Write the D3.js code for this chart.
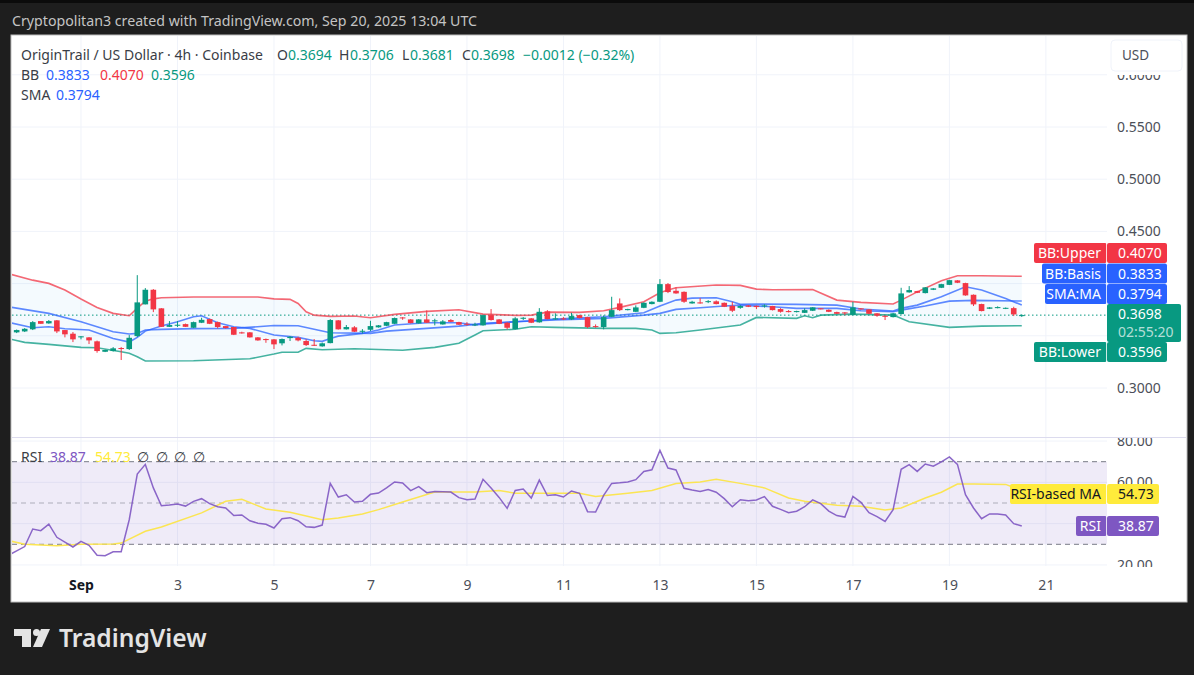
<!DOCTYPE html>
<html>
<head>
<meta charset="utf-8">
<script src="https://cdn.jsdelivr.net/npm/d3@7"></script>
<style>
  html, body { margin: 0; padding: 0; background: #1e1e1e; overflow: hidden; }
  svg { display: block; }
  text { font-family: "Noto Sans", sans-serif; }
</style>
</head>
<body>
<svg id="chart" width="1194" height="675"></svg>
<script>
// 4h candles, first one is bar -8, bar 0 is Sep 1 00:00
const firstBar = -8;
const barOpen = [.3533,.3542,.3562,.3641,.3619,.3648,.3555,.3520,.3485,.3485,
  .3447,.3347,.3354,.3383,.3373,.3497,.3801,.3941,.3763,.3586,
  .3600,.3612,.3577,.3625,.3660,.3631,.3593,.3584,.3533,.3533,
  .3485,.3469,.3466,.3428,.3478,.3481,.3450,.3414,.3399,.3430,
  .3648,.3562,.3581,.3539,.3558,.3581,.3596,.3615,.3676,.3657,
  .3619,.3657,.3641,.3609,.3651,.3631,.3615,.3603,.3600,.3698,
  .3657,.3625,.3564,.3663,.3667,.3629,.3734,.3657,.3667,.3657,
  .3698,.3679,.3593,.3584,.3682,.3810,.3746,.3730,.3768,.3804,
  .3826,.3995,.3931,.3921,.3810,.3820,.3823,.3830,.3816,.3787,
  .3768,.3791,.3787,.3782,.3785,.3756,.3737,.3727,.3720,.3740,
  .3763,.3749,.3727,.3724,.3701,.3763,.3753,.3715,.3692,.3679,
  .3708,.3916,.3928,.3909,.3941,.3960,.3988,.4031,.4005,.3893,
  .3804,.3759,.3765,.3759,.3765,.3694];
const barClose = [.3555,.3567,.3631,.3615,.3641,.3542,.3514,.3466,.3495,.3456,
  .3354,.3364,.3380,.3376,.3481,.3820,.3941,.3753,.3586,.3603,
  .3606,.3586,.3631,.3653,.3615,.3584,.3574,.3510,.3523,.3485,
  .3456,.3459,.3418,.3469,.3491,.3456,.3411,.3408,.3428,.3651,
  .3562,.3584,.3539,.3548,.3593,.3600,.3631,.3670,.3667,.3622,
  .3657,.3625,.3648,.3638,.3634,.3606,.3609,.3609,.3698,.3651,
  .3615,.3577,.3667,.3673,.3625,.3730,.3660,.3667,.3657,.3689,
  .3670,.3584,.3584,.3679,.3746,.3746,.3756,.3772,.3816,.3826,
  .3995,.3919,.3906,.3826,.3826,.3810,.3832,.3804,.3778,.3740,
  .3785,.3778,.3775,.3791,.3746,.3730,.3727,.3737,.3746,.3772,
  .3756,.3730,.3711,.3715,.3772,.3753,.3711,.3692,.3682,.3715,
  .3906,.3938,.3912,.3964,.3954,.3995,.4033,.4008,.3887,.3801,
  .3737,.3772,.3775,.3768,.3705,.3698];
const barHigh = [.3560,.3574,.3641,.3641,.3651,.3651,.3555,.3536,.3497,.3488,
  .3454,.3368,.3392,.3392,.3507,.4081,.3957,.3947,.3765,.3641,
  .3641,.3617,.3636,.3673,.3665,.3636,.3593,.3584,.3539,.3536,
  .3488,.3474,.3469,.3474,.3497,.3491,.3466,.3469,.3435,.3660,
  .3651,.3603,.3593,.3564,.3644,.3603,.3634,.3675,.3679,.3660,
  .3660,.3743,.3663,.3651,.3660,.3634,.3631,.3625,.3703,.3756,
  .3660,.3631,.3679,.3679,.3670,.3765,.3746,.3715,.3679,.3720,
  .3701,.3682,.3609,.3696,.3874,.3858,.3759,.3791,.3820,.3830,
  .4043,.4005,.3964,.3925,.3835,.3861,.3842,.3839,.3819,.3826,
  .3794,.3794,.3790,.3801,.3787,.3765,.3746,.3740,.3763,.3775,
  .3765,.3753,.3731,.3727,.3826,.3765,.3756,.3718,.3695,.3718,
  .3960,.3976,.3931,.3966,.3957,.3998,.4036,.4033,.4008,.3896,
  .3807,.3775,.3782,.3771,.3778,.3706];
const barLow = [.3526,.3536,.3555,.3615,.3615,.3526,.3485,.3440,.3466,.3421,
  .3338,.3344,.3349,.3268,.3364,.3488,.3801,.3727,.3584,.3584,
  .3584,.3584,.3574,.3622,.3612,.3571,.3569,.3507,.3521,.3483,
  .3453,.3433,.3373,.3408,.3450,.3447,.3402,.3402,.3396,.3428,
  .3560,.3560,.3536,.3523,.3545,.3579,.3593,.3612,.3653,.3619,
  .3617,.3622,.3600,.3607,.3631,.3603,.3596,.3593,.3597,.3646,
  .3612,.3562,.3562,.3651,.3622,.3626,.3657,.3654,.3651,.3651,
  .3667,.3574,.3577,.3562,.3679,.3737,.3743,.3727,.3765,.3801,
  .3823,.3909,.3903,.3816,.3808,.3808,.3813,.3801,.3775,.3727,
  .3759,.3775,.3756,.3770,.3743,.3722,.3724,.3724,.3718,.3737,
  .3753,.3727,.3708,.3698,.3698,.3750,.3708,.3682,.3651,.3676,
  .3705,.3913,.3909,.3906,.3938,.3957,.3986,.4005,.3884,.3785,
  .3734,.3756,.3763,.3756,.3689,.3681];

// Bollinger bands and SMA, read at the points where they bend
const upperBars = [-9,-6,-4,-2,0,2,4,6,7,8,9,10,14,22,24,26,27,28,29,31,34,36,39,43,47,50,54,56,58,62,65,67,70,72,73,74,79,82,84,86,91,94,97,101,102,104,107,109,112,117];
const upperVals = [.4094,.4033,.4002,.3938,.3852,.3772,.3715,.3692,.3765,.3832,.3854,.3864,.3871,.3871,.3854,.3849,.3810,.3730,.3698,.3686,.3689,.3673,.3705,.3734,.3749,.3708,.3696,.3698,.3727,.3724,.3740,.3772,.3826,.3912,.3938,.3960,.3986,.3983,.3947,.3941,.3944,.3842,.3820,.3804,.3842,.3921,.4027,.4075,.4075,.4070];
const basisBars = [-9,-4,0,4,6,7,8,10,14,19,24,27,29,31,36,38,43,47,50,54,59,65,70,72,74,77,80,82,86,89,94,97,101,102,105,108,111,117];
const basisVals = [.3778,.3715,.3634,.3539,.3517,.3523,.3555,.3562,.3569,.3571,.3598,.3596,.3562,.3529,.3523,.3545,.3571,.3593,.3619,.3634,.3651,.3667,.3698,.3715,.3753,.3768,.3785,.3794,.3778,.3763,.3763,.3740,.3730,.3746,.3785,.3832,.3839,.3833];
const smaBars = [-9,-6,-4,-2,1,4,6,7,8,10,12,14,15,17,19,21,24,27,29,30,31,32,35,37,39,43,47,49,50,54,56,59,65,70,72,74,76,79,81,82,84,89,94,97,101,102,104,107,110,112,115,117];
const smaVals = [.3629,.3577,.3586,.3567,.3555,.3475,.3440,.3485,.3545,.3593,.3634,.3682,.3692,.3625,.3586,.3571,.3507,.3485,.3453,.3447,.3475,.3497,.3523,.3555,.3603,.3625,.3625,.3603,.3612,.3634,.3644,.3660,.3682,.3720,.3785,.3842,.3861,.3864,.3826,.3801,.3804,.3801,.3794,.3756,.3737,.3763,.3794,.3874,.3969,.3938,.3858,.3794];
const lowerBars = [-9,-7,-4,0,2,5,6,7,8,14,21,24,25,27,28,30,34,40,44,47,49,50,54,56,59,65,69,71,72,74,77,82,84,89,90,91,92,96,101,103,108,112,117];
const lowerVals = [.3472,.3437,.3418,.3389,.3386,.3347,.3332,.3299,.3258,.3261,.3280,.3325,.3342,.3342,.3380,.3367,.3376,.3361,.3389,.3428,.3507,.3548,.3562,.3586,.3581,.3571,.3571,.3555,.3523,.3529,.3555,.3603,.3676,.3667,.3692,.3673,.3698,.3708,.3698,.3634,.3581,.3593,.3596];

// RSI per bar, first one is bar -9
const rsiFirstBar = -9;
const rsiVals = [24.7,26.8,28.9,37.4,36.6,39.8,33.4,31.1,28.7,31.4,29.5,24.7,24.5,26.4,26.4,41.9,
  64.0,68.7,57.3,48.7,49.0,49.5,48.5,50.8,52.1,49.7,48.2,47.6,43.9,44.2,41.4,40.2,39.7,37.9,
  42.4,42.9,41.4,38.5,38.2,39.3,59.5,52.9,54.0,50.5,50.8,54.2,54.8,57.3,60.2,59.7,56.0,57.9,
  55.0,55.6,55.5,55.3,52.6,51.6,51.9,61.5,57.3,52.7,47.4,56.1,56.8,52.4,61.1,53.6,54.0,52.9,
  55.8,54.7,45.8,45.6,53.7,59.5,59.8,60.2,61.3,65.3,66.1,75.5,66.9,66.0,57.1,56.3,55.6,56.5,
  55.2,52.1,48.2,51.6,51.1,51.5,53.1,48.4,46.9,45.3,46.0,48.2,51.5,49.7,46.1,43.9,43.2,53.2,
  50.3,45.3,43.4,41.1,46.8,66.3,68.6,65.3,68.9,67.8,69.9,72.3,68.7,54.0,47.6,42.4,44.7,44.7,
  44.2,40.0,38.87];
const rsiMaBars = [-9,-7,-3,0,4,5,8,10,15,18,20,23,26,30,32,35,37,40,44,49,52,54,58,62,64,68,71,74,77,79,82,85,88,90,94,97,100,102,105,107,109,111,115,116,117];
const rsiMaVals = [31.8,30,29.3,30,30.1,30.6,36.3,38.4,45.2,50.8,51.8,47.1,45.5,41.9,42.7,44.7,46.8,50.5,55.3,55.3,56.1,54.7,54.7,54.7,53.1,54.7,56.1,59.4,60.2,61.5,59.5,57.3,52.4,50.8,48.9,48.4,46.6,47.6,52.4,55.2,59.2,59.2,59,57.5,54.73];

// axis ticks, the labels left out here sit under the price tags
const priceGrid = [0.30, 0.35, 0.40, 0.45, 0.50, 0.55, 0.60];
const priceLabels = [0.30, 0.45, 0.50, 0.55, 0.60];
const rsiGrid = [20, 40, 60, 80];
const rsiLabels = [20, 60, 80];
const rsiGuides = [70, 50, 30];
const dayBars = [0, 12, 24, 36, 48, 60, 72, 84, 96, 108, 120];
const dayLabels = ["Sep", "3", "5", "7", "9", "11", "13", "15", "17", "19", "21"];
const lastPrice = 0.3698;

const RED = "#f23645", GREEN = "#089981", BLUE = "#2962ff", PURPLE = "#7e57c2", YELLOW = "#ffeb3b";
const GRID = "#f0f3fa", AXIS_TEXT = "#4c4f59";

const left = 12, right = 1107, frameRight = 1186;
const priceTop = 36, priceBottom = 437, rsiTop = 438, rsiBottom = 566, frameBottom = 601;

const svg = d3.select("#chart");
const defs = svg.append("defs");

const x = d3.scaleLinear().domain([-8.58, 127.6]).range([left, right]);
const y = d3.scaleLinear().domain([0.30, 0.55]).range([388, 127]);
const yRsi = d3.scaleLinear().domain([30, 70]).range([544.3, 461.7]);

function clip(id, x0, y0, w, h) {
  defs.append("clipPath").attr("id", id).append("rect")
    .attr("x", x0).attr("y", y0).attr("width", w).attr("height", h);
}
clip("price-clip", left, priceTop, right - left, priceBottom - priceTop);
clip("rsi-clip", left, rsiTop, right - left, rsiBottom - rsiTop);
clip("rsi-low", left, yRsi(30), right - left, 40);
clip("rsi-high", left, rsiTop, right - left, yRsi(70) - rsiTop);
clip("rsi-axis-clip", right, rsiTop, frameRight - right, 129);

function gradient(id, color, topOp, bottomOp) {
  const g = defs.append("linearGradient").attr("id", id).attr("x1", 0).attr("y1", 0).attr("x2", 0).attr("y2", 1);
  g.append("stop").attr("offset", "0%").attr("stop-color", color).attr("stop-opacity", topOp);
  g.append("stop").attr("offset", "100%").attr("stop-color", color).attr("stop-opacity", bottomOp);
}
gradient("low-fill", "#f23645", 0.14, 0.02);
gradient("high-fill", "#089981", 0.02, 0.14);

// frame
svg.append("rect").attr("width", 1194).attr("height", 3).attr("fill", "#0b0b0b");
svg.append("rect").attr("x", left - 1).attr("y", priceTop - 1)
  .attr("width", frameRight - left + 2).attr("height", frameBottom - priceTop + 2)
  .attr("fill", "#ffffff").attr("stroke", "#bdbdbd").attr("stroke-width", 1);

svg.append("text").attr("x", 12).attr("y", 26)
  .attr("font-size", 14.2).attr("fill", "#c4c4c4")
  .text("Cryptopolitan3 created with TradingView.com, Sep 20, 2025 13:04 UTC");

// grid
const grid = svg.append("g");
grid.selectAll(".vp").data(dayBars).join("line")
  .attr("x1", d => x(d)).attr("x2", d => x(d)).attr("y1", priceTop).attr("y2", priceBottom)
  .attr("stroke", GRID);
grid.selectAll(".vr").data(dayBars).join("line")
  .attr("x1", d => x(d)).attr("x2", d => x(d)).attr("y1", rsiTop).attr("y2", rsiBottom)
  .attr("stroke", GRID);
grid.selectAll(".hp").data(priceGrid).join("line")
  .attr("x1", left).attr("x2", right).attr("y1", d => y(d)).attr("y2", d => y(d))
  .attr("stroke", GRID);
grid.selectAll(".hr").data(rsiGrid).join("line")
  .attr("x1", left).attr("x2", right).attr("y1", d => yRsi(d)).attr("y2", d => yRsi(d))
  .attr("stroke", GRID);
svg.append("line").attr("x1", left).attr("x2", frameRight).attr("y1", priceBottom + .5).attr("y2", priceBottom + .5)
  .attr("stroke", "#dcdbee");

// price pane
const pricePane = svg.append("g").attr("clip-path", "url(#price-clip)");
const priceLine = d3.line().x(d => x(d[0])).y(d => y(d[1]));

const upperPts = d3.zip(upperBars, upperVals);
const lowerPts = d3.zip(lowerBars, lowerVals);
pricePane.append("path")
  .attr("d", priceLine(upperPts.concat(lowerPts.slice().reverse())) + "Z")
  .attr("fill", "#2196f3").attr("opacity", 0.05);

pricePane.append("line")
  .attr("x1", left).attr("x2", right).attr("y1", y(lastPrice)).attr("y2", y(lastPrice))
  .attr("stroke", GREEN).attr("stroke-dasharray", "1.5 2.5");

const bandLines = [
  [upperPts, RED],
  [lowerPts, GREEN],
  [d3.zip(basisBars, basisVals), BLUE],
  [d3.zip(smaBars, smaVals), BLUE]
];
bandLines.forEach(([pts, color]) => {
  pricePane.append("path").attr("d", priceLine(pts))
    .attr("fill", "none").attr("stroke", color).attr("stroke-width", 1.6).attr("stroke-opacity", 0.75);
});

// candles
const bars = barOpen.map((o, i) => ({
  bar: firstBar + i, open: o, close: barClose[i], high: barHigh[i], low: barLow[i]
}));
const barColor = d => d.close >= d.open ? GREEN : RED;
const candles = pricePane.append("g").selectAll("g").data(bars).join("g");
candles.append("line")
  .attr("x1", d => x(d.bar)).attr("x2", d => x(d.bar))
  .attr("y1", d => y(d.high)).attr("y2", d => y(d.low))
  .attr("stroke", barColor).attr("stroke-width", 1);
candles.append("rect")
  .attr("x", d => x(d.bar) - 2.8).attr("width", 5.6)
  .attr("y", d => y(Math.max(d.open, d.close)))
  .attr("height", d => Math.max(1, Math.abs(y(d.open) - y(d.close))))
  .attr("fill", barColor);

// RSI pane
const rsiPane = svg.append("g").attr("clip-path", "url(#rsi-clip)");
rsiPane.append("rect")
  .attr("x", left).attr("width", right - left)
  .attr("y", yRsi(70)).attr("height", yRsi(30) - yRsi(70))
  .attr("fill", PURPLE).attr("opacity", 0.12);
rsiPane.selectAll(".guide").data(rsiGuides).join("line")
  .attr("x1", left).attr("x2", right).attr("y1", d => yRsi(d)).attr("y2", d => yRsi(d))
  .attr("stroke", "#787b86").attr("stroke-dasharray", "5 4")
  .attr("stroke-opacity", d => d === 50 ? 0.55 : 1);

const rsiPts = rsiVals.map((v, i) => [rsiFirstBar + i, v]);
const rsiArea = base => d3.area().x(d => x(d[0])).y0(yRsi(base)).y1(d => yRsi(d[1]))(rsiPts);
rsiPane.append("path").attr("d", rsiArea(30)).attr("clip-path", "url(#rsi-low)").attr("fill", "url(#low-fill)");
rsiPane.append("path").attr("d", rsiArea(70)).attr("clip-path", "url(#rsi-high)").attr("fill", "url(#high-fill)");

const rsiLine = d3.line().x(d => x(d[0])).y(d => yRsi(d[1]));
rsiPane.append("path").attr("d", rsiLine(d3.zip(rsiMaBars, rsiMaVals)))
  .attr("fill", "none").attr("stroke", "#fbe552").attr("stroke-width", 1.5);
rsiPane.append("path").attr("d", rsiLine(rsiPts))
  .attr("fill", "none").attr("stroke", PURPLE).attr("stroke-width", 1.5).attr("stroke-opacity", 0.9);

// axes
function cleanAxis(g) {
  g.select(".domain").remove();
  g.selectAll(".tick line").remove();
  g.selectAll("text").attr("fill", AXIS_TEXT).attr("font-family", '"Noto Sans", sans-serif').attr("font-size", 14);
}
svg.append("g").attr("transform", `translate(${right},0)`)
  .call(d3.axisRight(y).tickValues(priceLabels).tickFormat(d3.format(".4f")).tickSize(0).tickPadding(10))
  .call(cleanAxis);
svg.append("g").attr("clip-path", "url(#rsi-axis-clip)")
  .append("g").attr("transform", `translate(${right},0)`)
  .call(d3.axisRight(yRsi).tickValues(rsiLabels).tickFormat(d3.format(".2f")).tickSize(0).tickPadding(10))
  .call(cleanAxis);
svg.append("g").attr("transform", "translate(0,580)")
  .call(d3.axisBottom(x).tickValues(dayBars).tickFormat((d, i) => dayLabels[i]).tickSize(0).tickPadding(0))
  .call(cleanAxis)
  .selectAll("text")
  .attr("font-weight", (d, i) => i === 0 ? 700 : 400)
  .attr("fill", (d, i) => i === 0 ? "#131722" : AXIS_TEXT);

// USD button sits over the clipped top tick
svg.append("rect").attr("x", 1111).attr("y", 68).attr("width", 71).attr("height", 7).attr("fill", "#ffffff");
svg.append("rect").attr("x", 1111).attr("y", 40).attr("width", 71).attr("height", 31).attr("rx", 4)
  .attr("fill", "#ffffff").attr("stroke", "#f0f3fa");
svg.append("text").attr("x", 1122).attr("y", 60).attr("font-size", 13.5).attr("fill", AXIS_TEXT).text("USD");

// right side labels
function priceTag(name, value, top, nameX, valueRight, color, textColor) {
  const g = svg.append("g");
  g.append("rect").attr("x", nameX).attr("y", top).attr("width", right - nameX).attr("height", 20).attr("rx", 2).attr("fill", color);
  g.append("rect").attr("x", right).attr("y", top).attr("width", valueRight - right).attr("height", 20).attr("rx", 2).attr("fill", color);
  g.append("line").attr("x1", right - .5).attr("x2", right - .5).attr("y1", top).attr("y2", top + 20).attr("stroke", "#ffffff").attr("stroke-opacity", .8);
  g.append("text").attr("x", right - 6).attr("y", top + 15).attr("text-anchor", "end").attr("font-size", 14).attr("fill", textColor).text(name);
  g.append("text").attr("x", right + 11).attr("y", top + 15).attr("font-size", 14).attr("fill", textColor).text(value);
}
priceTag("BB:Upper", "0.4070", 243, 1034, 1167, RED, "#ffffff");
priceTag("BB:Basis", "0.3833", 263.5, 1042, 1167, BLUE, "#ffffff");
priceTag("SMA:MA", "0.3794", 284, 1045, 1167, BLUE, "#ffffff");
priceTag("BB:Lower", "0.3596", 342, 1034, 1167, GREEN, "#ffffff");
svg.append("rect").attr("x", right).attr("y", 304).attr("width", 74).attr("height", 38).attr("rx", 2).attr("fill", GREEN);
svg.append("text").attr("x", right + 11).attr("y", 319).attr("font-size", 14).attr("fill", "#ffffff").text("0.3698");
svg.append("text").attr("x", right + 11).attr("y", 337).attr("font-size", 14).attr("fill", "#ffffff").attr("fill-opacity", .7).text("02:55:20");
priceTag("RSI-based MA", "54.73", 484, 1010, 1159, YELLOW, "#131722");
priceTag("RSI", "38.87", 516, 1076, 1159, PURPLE, "#ffffff");

// legend rows
function legend(items, baseline) {
  items.forEach(([label, lx, color]) => {
    svg.append("text").attr("x", lx).attr("y", baseline).attr("font-size", 14).attr("fill", color).text(label);
  });
}
const INK = "#3a3d46";
legend([
  ["OriginTrail / US Dollar · 4h · Coinbase", 21, INK],
  ["O", 277, INK], ["0.3694", 288, GREEN],
  ["H", 339, INK], ["0.3706", 350, GREEN],
  ["L", 402, INK], ["0.3681", 410, GREEN],
  ["C", 462, INK], ["0.3698", 471, GREEN],
  ["−0.0012 (−0.32%)", 523, GREEN]
], 60);
legend([["BB", 21, INK], ["0.3833", 46, BLUE], ["0.4070", 100, RED], ["0.3596", 151, GREEN]], 80);
legend([["SMA", 21, INK], ["0.3794", 56, BLUE]], 100);
legend([
  ["RSI", 21, INK], ["38.87", 50, PURPLE], ["54.73", 95, YELLOW],
  ["∅", 137, INK], ["∅", 156, INK], ["∅", 174, INK], ["∅", 193, INK]
], 462);

// TradingView logo
const logo = svg.append("g").attr("fill", "#e4e4e4");
logo.append("path").attr("d", "M14 629H31V647H22V636H14Z");
logo.append("circle").attr("cx", 36.5).attr("cy", 632.5).attr("r", 3.5);
logo.append("path").attr("d", "M41 629H50L42 647H33Z");
svg.append("text").attr("x", 59).attr("y", 647).attr("font-family", "Lato, sans-serif")
  .attr("font-size", 24.6).attr("font-weight", 600).attr("fill", "#e4e4e4").text("TradingView");
</script>
</body>
</html>
